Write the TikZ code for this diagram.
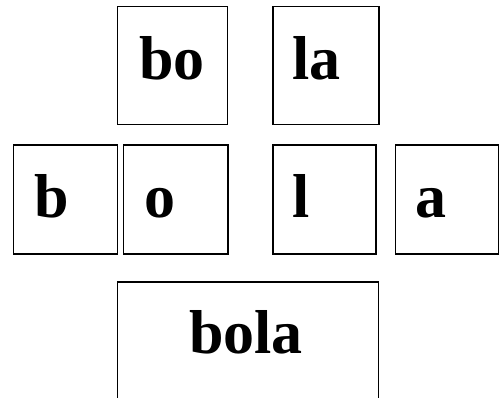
\documentclass[tikz,border=0pt]{standalone}
\usepackage{fontspec}
\setmainfont{Liberation Serif}
\begin{document}
\begin{tikzpicture}[x=1pt,y=-1pt,
  box/.style={draw=black,line width=1.6pt,inner sep=0pt,outer sep=0pt,anchor=north west},
  lbl/.style={font=\fontsize{62}{62}\selectfont\bfseries,inner sep=0pt,anchor=base west}]
\clip (0,0) rectangle (501,398);
% upper row
\node[box,minimum width=110pt,minimum height=118pt] (bbo) at (117.3,6.7) {};
\node[box,minimum width=106pt,minimum height=118pt] (bla) at (272.7,6.7) {};
% middle row
\node[box,minimum width=104pt,minimum height=109pt] (bb) at (13.3,145) {};
\node[box,minimum width=104.4pt,minimum height=109pt] (bo) at (123.3,145) {};
\node[box,minimum width=103.3pt,minimum height=109pt] (bl) at (272.7,145) {};
\node[box,minimum width=103.2pt,minimum height=109pt] (ba) at (395.3,145) {};
% bottom
\node[box,minimum width=261pt,minimum height=140pt] (bbola) at (117.3,282.3) {};
% labels
\node[lbl] (tbo) at (139,80) {bo};
\node[lbl] (tla) at (292.5,80) {la};
\node[lbl] (tb) at (34,217.3) {b};
\node[lbl] (to) at (144,217.3) {o};
\node[lbl] (tl) at (292.5,217.3) {l};
\node[lbl] (ta) at (415,217.3) {a};
\node[lbl] (tbola) at (189,353.3) {bola};
\end{tikzpicture}
\end{document}
